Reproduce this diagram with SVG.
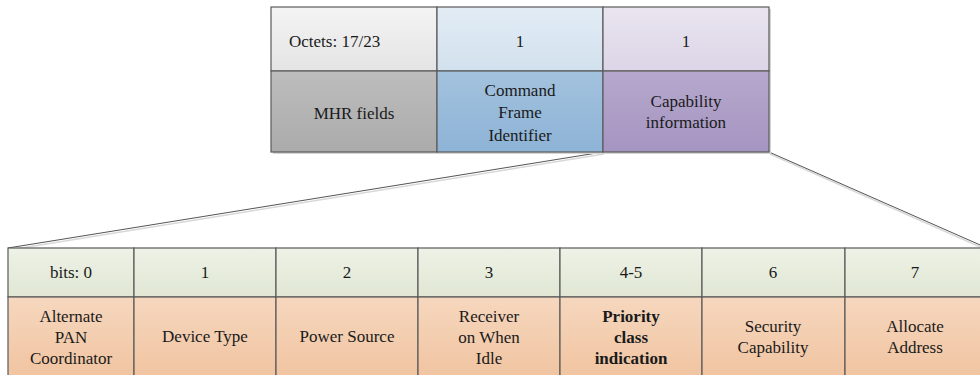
<svg xmlns="http://www.w3.org/2000/svg" width="980" height="375" viewBox="0 0 980 375">
  <style>
    .cell { stroke: #5a5a5a; stroke-width: 1.2; }
    .shadow { fill: #d4d4d4; }
    .t { font-size: 17px; fill: #1a1a1a; text-anchor: middle; }
    .b { font-weight: bold; }
    .conn { stroke: #555555; stroke-width: 1; fill: none; }
    .connShadow { stroke: #d8d8d8; stroke-width: 1.5; fill: none; }
  </style>
  <defs>
    <linearGradient id="gGrayTop" x1="0" y1="0" x2="0" y2="1">
      <stop offset="0" stop-color="#f4f4f4"/><stop offset="1" stop-color="#e4e4e4"/>
    </linearGradient>
    <linearGradient id="gBlueTop" x1="0" y1="0" x2="0" y2="1">
      <stop offset="0" stop-color="#e2ecf5"/><stop offset="1" stop-color="#d2e1ee"/>
    </linearGradient>
    <linearGradient id="gPurpleTop" x1="0" y1="0" x2="0" y2="1">
      <stop offset="0" stop-color="#e9e5f0"/><stop offset="1" stop-color="#dcd5e7"/>
    </linearGradient>
    <linearGradient id="gGray" x1="0" y1="0" x2="0" y2="1">
      <stop offset="0" stop-color="#bdbdbd"/><stop offset="1" stop-color="#ababab"/>
    </linearGradient>
    <linearGradient id="gBlue" x1="0" y1="0" x2="0" y2="1">
      <stop offset="0" stop-color="#a3c2de"/><stop offset="1" stop-color="#8db3d6"/>
    </linearGradient>
    <linearGradient id="gPurple" x1="0" y1="0" x2="0" y2="1">
      <stop offset="0" stop-color="#b6a8cd"/><stop offset="1" stop-color="#a595c1"/>
    </linearGradient>
    <linearGradient id="gGreen" x1="0" y1="0" x2="0" y2="1">
      <stop offset="0" stop-color="#eef2e7"/><stop offset="1" stop-color="#e0e7d3"/>
    </linearGradient>
    <linearGradient id="gPeach" x1="0" y1="0" x2="0" y2="1">
      <stop offset="0" stop-color="#f6d7be"/><stop offset="1" stop-color="#f0c39f"/>
    </linearGradient>
  </defs>

  <rect width="980" height="375" fill="#ffffff"/>

  <!-- zoom-out connectors from the capability field to the bit table -->
  <g id="connectors">
    <line class="connShadow" x1="604" y1="154" x2="9" y2="250"/>
    <line class="connShadow" x1="770" y1="154" x2="987" y2="250"/>
    <line class="conn" x1="603" y1="152" x2="8" y2="248"/>
    <line class="conn" x1="769" y1="152" x2="987" y2="248"/>
  </g>

  <g font-family="Liberation Serif, Times New Roman, Times, serif">
  <!-- frame table shadow -->
  <rect class="shadow" x="273" y="9" width="498" height="145"/>

  <g id="octets">
    <rect class="cell" x="271" y="7" width="166" height="64" fill="url(#gGrayTop)"/>
    <text class="t" x="289" y="47" style="text-anchor:start">Octets: 17/23</text>
  </g>
  <g id="cfi-size">
    <rect class="cell" x="437" y="7" width="166" height="64" fill="url(#gBlueTop)"/>
    <text class="t" x="520" y="47">1</text>
  </g>
  <g id="cap-size">
    <rect class="cell" x="603" y="7" width="166" height="64" fill="url(#gPurpleTop)"/>
    <text class="t" x="686" y="47">1</text>
  </g>
  <g id="mhr">
    <rect class="cell" x="271" y="71" width="166" height="81" fill="url(#gGray)"/>
    <text class="t" x="354" y="119">MHR fields</text>
  </g>
  <g id="cfi">
    <rect class="cell" x="437" y="71" width="166" height="81" fill="url(#gBlue)"/>
    <text class="t" x="520" y="96">Command</text>
    <text class="t" x="520" y="118">Frame</text>
    <text class="t" x="520" y="141">Identifier</text>
  </g>
  <g id="capability">
    <rect class="cell" x="603" y="71" width="166" height="81" fill="url(#gPurple)"/>
    <text class="t" x="686" y="107">Capability</text>
    <text class="t" x="686" y="128">information</text>
  </g>

  <!-- bit table shadow -->
  <rect class="shadow" x="9" y="250" width="980" height="130"/>

  <g id="bit0">
    <rect class="cell" x="8" y="248" width="126" height="49" fill="url(#gGreen)"/>
    <text class="t" x="71" y="278">bits: 0</text>
    <rect class="cell" x="8" y="297" width="126" height="85" fill="url(#gPeach)"/>
    <text class="t" x="71" y="322">Alternate</text>
    <text class="t" x="71" y="343">PAN</text>
    <text class="t" x="71" y="364">Coordinator</text>
  </g>
  <g id="bit1">
    <rect class="cell" x="134" y="248" width="142" height="49" fill="url(#gGreen)"/>
    <text class="t" x="205" y="278">1</text>
    <rect class="cell" x="134" y="297" width="142" height="85" fill="url(#gPeach)"/>
    <text class="t" x="205" y="342">Device Type</text>
  </g>
  <g id="bit2">
    <rect class="cell" x="276" y="248" width="142" height="49" fill="url(#gGreen)"/>
    <text class="t" x="347" y="278">2</text>
    <rect class="cell" x="276" y="297" width="142" height="85" fill="url(#gPeach)"/>
    <text class="t" x="347" y="342">Power Source</text>
  </g>
  <g id="bit3">
    <rect class="cell" x="418" y="248" width="142" height="49" fill="url(#gGreen)"/>
    <text class="t" x="489" y="278">3</text>
    <rect class="cell" x="418" y="297" width="142" height="85" fill="url(#gPeach)"/>
    <text class="t" x="489" y="322">Receiver</text>
    <text class="t" x="489" y="343">on When</text>
    <text class="t" x="489" y="364">Idle</text>
  </g>
  <g id="bit45">
    <rect class="cell" x="560" y="248" width="142" height="49" fill="url(#gGreen)"/>
    <text class="t" x="631" y="278">4-5</text>
    <rect class="cell" x="560" y="297" width="142" height="85" fill="url(#gPeach)"/>
    <text class="t b" x="631" y="322">Priority</text>
    <text class="t b" x="631" y="343">class</text>
    <text class="t b" x="631" y="364">indication</text>
  </g>
  <g id="bit6">
    <rect class="cell" x="702" y="248" width="143" height="49" fill="url(#gGreen)"/>
    <text class="t" x="773" y="278">6</text>
    <rect class="cell" x="702" y="297" width="143" height="85" fill="url(#gPeach)"/>
    <text class="t" x="773" y="332">Security</text>
    <text class="t" x="773" y="353">Capability</text>
  </g>
  <g id="bit7">
    <rect class="cell" x="845" y="248" width="143" height="49" fill="url(#gGreen)"/>
    <text class="t" x="915" y="278">7</text>
    <rect class="cell" x="845" y="297" width="143" height="85" fill="url(#gPeach)"/>
    <text class="t" x="915" y="332">Allocate</text>
    <text class="t" x="915" y="353">Address</text>
  </g>
  </g>
</svg>
